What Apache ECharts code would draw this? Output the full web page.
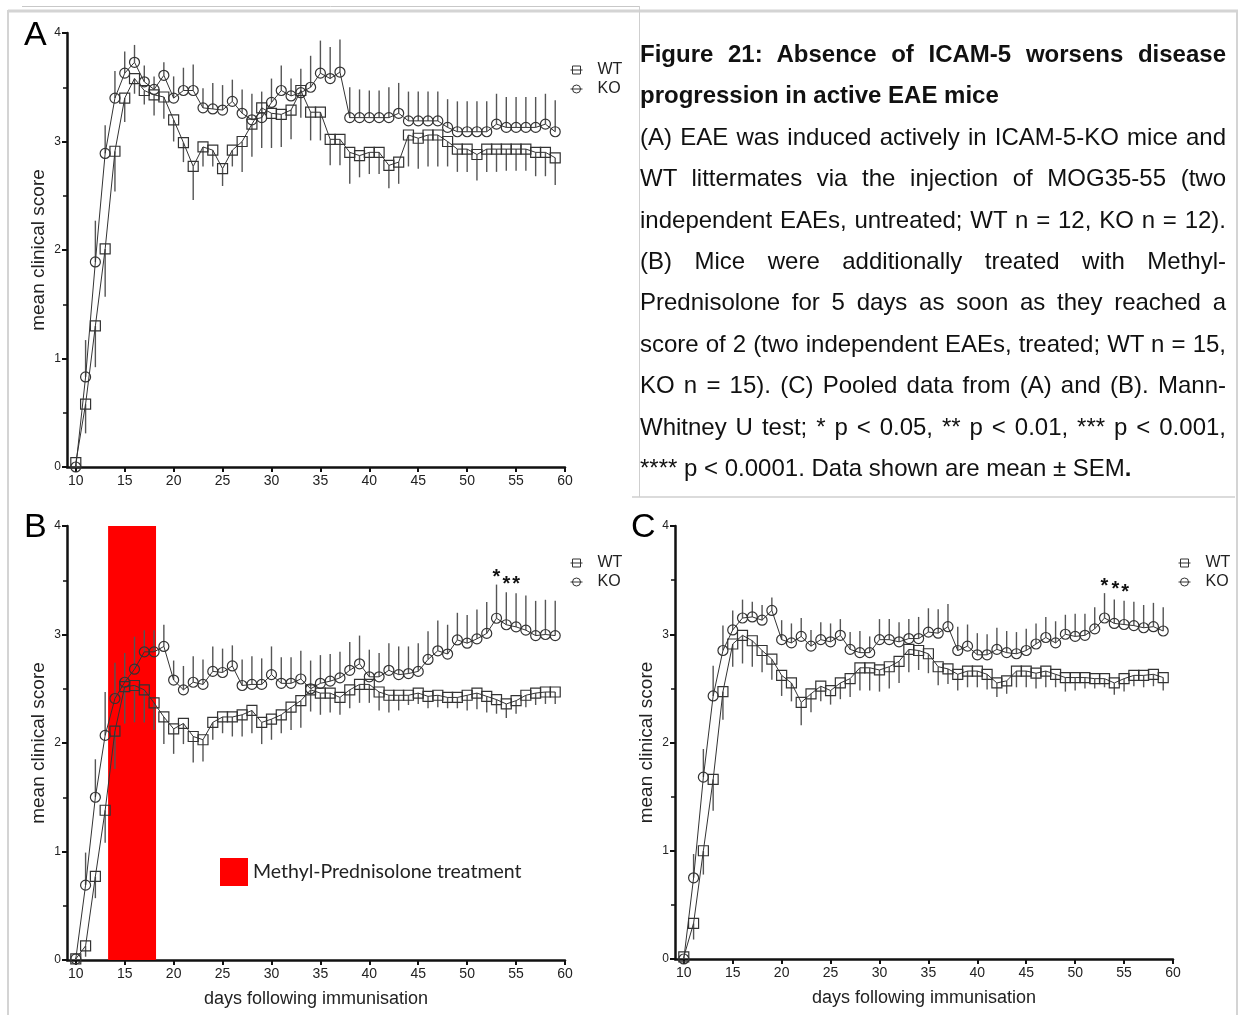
<!DOCTYPE html>
<html>
<head>
<meta charset="utf-8">
<script src="https://cdn.jsdelivr.net/npm/echarts@6/dist/echarts.min.js"></script>
<style>
  html, body { margin: 0; padding: 0; background: #fff; }
  #wrap { position: relative; width: 1240px; height: 1015px; }
  #chart { position: absolute; left: 0; top: 0; width: 1240px; height: 1015px; }
  .cap { position: absolute; left: 640px; top: 33px; width: 586px;
         font-family: 'Liberation Sans', Arial, sans-serif; font-size: 24px;
         line-height: 41.4px; color: #111; }
  .cap div { white-space: nowrap; }
  .cap .j { text-align: justify; text-align-last: justify; }
  .cap .b { font-weight: bold; }
</style>
</head>
<body>
<div id="wrap">
  <div id="chart"></div>
  <div class="cap">
    <div class="j b">Figure 21: Absence of ICAM-5 worsens disease</div>
    <div class="b">progression in active EAE mice</div>
    <div class="j">(A) EAE was induced actively in ICAM-5-KO mice and</div>
    <div class="j">WT littermates via the injection of MOG35-55 (two</div>
    <div class="j">independent EAEs, untreated; WT n = 12, KO n = 12).</div>
    <div class="j">(B) Mice were additionally treated with Methyl-</div>
    <div class="j">Prednisolone for 5 days as soon as they reached a</div>
    <div class="j">score of 2 (two independent EAEs, treated; WT n = 15,</div>
    <div class="j">KO n = 15). (C) Pooled data from (A) and (B). Mann-</div>
    <div class="j">Whitney U test; * p &lt; 0.05, ** p &lt; 0.01, *** p &lt; 0.001,</div>
    <div>**** p &lt; 0.0001. Data shown are mean ± SEM<b>.</b></div>
  </div>
</div>
<script>
// days after immunisation
const days = [10, 11, 12, 13, 14, 15, 16, 17, 18, 19, 20, 21, 22, 23, 24, 25, 26, 27, 28, 29,
              30, 31, 32, 33, 34, 35, 36, 37, 38, 39, 40, 41, 42, 43, 44, 45, 46, 47, 48, 49,
              50, 51, 52, 53, 54, 55, 56, 57, 58, 59]
const xTicks = [10, 15, 20, 25, 30, 35, 40, 45, 50, 55, 60]

// (A) untreated
const aWT = [0.04, 0.58, 1.30, 2.01, 2.91, 3.40, 3.58, 3.47, 3.43, 3.41, 3.20, 2.99, 2.77, 2.95, 2.92, 2.75, 2.92, 3.00, 3.16, 3.31,
             3.26, 3.25, 3.29, 3.47, 3.27, 3.27, 3.02, 3.02, 2.90, 2.87, 2.90, 2.90, 2.78, 2.81, 3.06, 3.03, 3.06, 3.06, 3.00, 2.93,
             2.93, 2.88, 2.93, 2.93, 2.93, 2.93, 2.93, 2.90, 2.90, 2.85]
const aWTsem = [0.03, 0.27, 0.38, 0.44, 0.37, 0.22, 0.14, 0.13, 0.19, 0.20, 0.20, 0.18, 0.31, 0.18, 0.15, 0.16, 0.15, 0.28, 0.30, 0.37,
                0.32, 0.30, 0.27, 0.25, 0.26, 0.26, 0.24, 0.24, 0.29, 0.20, 0.20, 0.20, 0.21, 0.20, 0.29, 0.28, 0.29, 0.29, 0.23, 0.21,
                0.21, 0.24, 0.21, 0.21, 0.20, 0.20, 0.20, 0.22, 0.22, 0.25]
const aKO = [0.00, 0.83, 1.89, 2.89, 3.40, 3.63, 3.73, 3.55, 3.48, 3.61, 3.40, 3.47, 3.47, 3.31, 3.30, 3.29, 3.37, 3.26, 3.20, 3.22,
             3.36, 3.47, 3.42, 3.45, 3.50, 3.63, 3.58, 3.64, 3.22, 3.22, 3.22, 3.22, 3.22, 3.26, 3.19, 3.19, 3.19, 3.19, 3.13, 3.09,
             3.09, 3.09, 3.09, 3.16, 3.13, 3.13, 3.13, 3.13, 3.16, 3.09]
const aKOsem = [0.02, 0.34, 0.38, 0.26, 0.25, 0.20, 0.16, 0.15, 0.12, 0.12, 0.20, 0.21, 0.24, 0.18, 0.24, 0.23, 0.20, 0.22, 0.24, 0.24,
                0.22, 0.23, 0.16, 0.22, 0.29, 0.30, 0.29, 0.30, 0.28, 0.26, 0.25, 0.25, 0.28, 0.28, 0.27, 0.27, 0.27, 0.27, 0.26, 0.28,
                0.28, 0.28, 0.28, 0.28, 0.28, 0.28, 0.28, 0.28, 0.28, 0.29]

// (B) methyl-prednisolone treated
const bWT = [0.01, 0.13, 0.77, 1.38, 2.11, 2.52, 2.53, 2.49, 2.37, 2.24, 2.13, 2.18, 2.06, 2.03, 2.19, 2.24, 2.24, 2.26, 2.30, 2.19,
             2.22, 2.26, 2.33, 2.39, 2.49, 2.46, 2.46, 2.42, 2.49, 2.54, 2.54, 2.47, 2.44, 2.44, 2.44, 2.46, 2.43, 2.44, 2.42, 2.42,
             2.44, 2.46, 2.43, 2.40, 2.36, 2.39, 2.44, 2.46, 2.47, 2.47]
const bWTsem = [0.01, 0.10, 0.20, 0.30, 0.35, 0.34, 0.34, 0.30, 0.25, 0.25, 0.23, 0.19, 0.24, 0.20, 0.16, 0.15, 0.18, 0.20, 0.21, 0.20,
                0.19, 0.17, 0.21, 0.25, 0.20, 0.20, 0.18, 0.16, 0.17, 0.17, 0.17, 0.17, 0.16, 0.14, 0.09, 0.10, 0.11, 0.11, 0.10, 0.10,
                0.14, 0.15, 0.15, 0.13, 0.13, 0.12, 0.11, 0.11, 0.11, 0.11]
const bKO = [0.01, 0.69, 1.50, 2.07, 2.41, 2.56, 2.68, 2.84, 2.84, 2.89, 2.58, 2.49, 2.56, 2.54, 2.66, 2.65, 2.71, 2.53, 2.54, 2.54,
             2.63, 2.55, 2.55, 2.59, 2.50, 2.55, 2.57, 2.60, 2.67, 2.73, 2.61, 2.61, 2.67, 2.63, 2.64, 2.66, 2.77, 2.85, 2.82, 2.95,
             2.92, 2.96, 3.01, 3.15, 3.09, 3.07, 3.04, 2.99, 3.00, 2.99]
const bKOsem = [0.01, 0.30, 0.35, 0.40, 0.33, 0.27, 0.30, 0.20, 0.20, 0.20, 0.18, 0.22, 0.24, 0.23, 0.23, 0.22, 0.19, 0.24, 0.26, 0.24,
                0.26, 0.24, 0.24, 0.26, 0.26, 0.26, 0.25, 0.24, 0.26, 0.26, 0.25, 0.22, 0.25, 0.26, 0.25, 0.26, 0.26, 0.28, 0.27, 0.25,
                0.26, 0.27, 0.29, 0.31, 0.30, 0.31, 0.32, 0.32, 0.32, 0.32]
const treatDays = [[13.3, 18.2]]
const starsB = [[53, 3.53], [54, 3.46], [55, 3.46]]

// (C) pooled
const cWT = [0.02, 0.33, 1.00, 1.66, 2.47, 2.91, 2.99, 2.94, 2.85, 2.77, 2.62, 2.55, 2.37, 2.45, 2.52, 2.48, 2.55, 2.59, 2.69, 2.69,
             2.67, 2.70, 2.75, 2.86, 2.85, 2.82, 2.70, 2.68, 2.63, 2.66, 2.66, 2.63, 2.55, 2.57, 2.66, 2.66, 2.64, 2.66, 2.63, 2.60,
             2.60, 2.60, 2.59, 2.59, 2.55, 2.59, 2.62, 2.62, 2.63, 2.60]
const cWTsem = [0.01, 0.15, 0.22, 0.29, 0.26, 0.21, 0.26, 0.24, 0.20, 0.19, 0.19, 0.17, 0.21, 0.17, 0.14, 0.13, 0.15, 0.17, 0.21, 0.21,
                0.20, 0.20, 0.20, 0.21, 0.18, 0.18, 0.17, 0.14, 0.15, 0.15, 0.15, 0.14, 0.13, 0.12, 0.15, 0.15, 0.14, 0.15, 0.12, 0.13,
                0.12, 0.10, 0.09, 0.08, 0.11, 0.12, 0.10, 0.11, 0.11, 0.12]
const cKO = [0.00, 0.75, 1.68, 2.43, 2.85, 3.04, 3.15, 3.16, 3.13, 3.22, 2.95, 2.92, 2.98, 2.89, 2.95, 2.93, 2.99, 2.86, 2.83, 2.83,
             2.95, 2.95, 2.93, 2.96, 2.96, 3.02, 3.01, 3.07, 2.85, 2.89, 2.81, 2.81, 2.86, 2.83, 2.82, 2.85, 2.91, 2.97, 2.92, 3.00,
             2.98, 2.99, 3.05, 3.15, 3.10, 3.09, 3.08, 3.06, 3.07, 3.03]
const cKOsem = [0.01, 0.22, 0.26, 0.28, 0.23, 0.18, 0.17, 0.14, 0.14, 0.12, 0.18, 0.18, 0.17, 0.15, 0.16, 0.17, 0.15, 0.16, 0.20, 0.15,
                0.19, 0.19, 0.18, 0.18, 0.20, 0.22, 0.22, 0.21, 0.22, 0.20, 0.20, 0.19, 0.20, 0.20, 0.20, 0.20, 0.19, 0.19, 0.20, 0.18,
                0.21, 0.20, 0.20, 0.23, 0.22, 0.22, 0.22, 0.21, 0.22, 0.22]
const starsC = [[53, 3.44], [54.1, 3.41], [55.1, 3.39]]


const FONT = 'Liberation Sans'
const INK = '#333'
const chart = echarts.init(document.getElementById('chart'))

const points = (vals) => days.map((d, i) => [d, vals[i]])
const withSem = (vals, sem) => days.map((d, i) => [d, vals[i], sem[i]])

// one-sided SEM bars: KO up, WT down
const semBar = (dir) => (params, api) => {
    const a = api.coord([api.value(0), api.value(1)])
    const b = api.coord([api.value(0), api.value(1) + dir * api.value(2)])
    return {
        type: 'line',
        shape: { x1: a[0], y1: a[1], x2: b[0], y2: b[1] },
        style: { stroke: '#555', lineWidth: 1.4 }
    }
}

const star = (params, api) => {
    const p = api.coord([api.value(0), api.value(1)])
    return {
        type: 'text', x: p[0], y: p[1],
        style: { text: '*', font: 'bold 20px "Liberation Sans"', fill: '#111', align: 'center', verticalAlign: 'middle' }
    }
}

const line = (name, idx, vals, symbol) => ({
    name, type: 'line', xAxisIndex: idx, yAxisIndex: idx,
    data: points(vals), symbol, symbolSize: 10, showSymbol: true,
    lineStyle: { color: INK, width: 1 },
    itemStyle: { color: 'rgba(255,255,255,0)', borderColor: INK, borderWidth: 1.2 },
    z: 4
})

const sem = (idx, vals, err, dir) => ({
    type: 'custom', xAxisIndex: idx, yAxisIndex: idx,
    data: withSem(vals, err), renderItem: semBar(dir), z: 3, silent: true
})

const xAxis = (idx, named) => ({
    type: 'value', gridIndex: idx, min: 9.1, max: 60,
    name: named ? 'days following immunisation' : '',
    nameLocation: 'middle', nameGap: 30,
    nameTextStyle: { fontFamily: FONT, fontSize: 18, color: '#222' },
    axisLine: { show: true, lineStyle: { color: '#111', width: 2.5 } },
    axisTick: { show: true, customValues: xTicks, length: 5, lineStyle: { color: '#111', width: 2 } },
    axisLabel: { customValues: xTicks, fontFamily: FONT, fontSize: 14, color: '#222', margin: 7 },
    splitLine: { show: false }
})

const yAxis = (idx) => ({
    type: 'value', gridIndex: idx, min: 0, max: 4, interval: 1,
    name: 'mean clinical score', nameLocation: 'middle', nameGap: 19, nameRotate: 90,
    nameTextStyle: { fontFamily: FONT, fontSize: 19, color: '#222' },
    axisLine: { show: true, lineStyle: { color: '#111', width: 2.5 } },
    axisTick: { show: true, length: 5, lineStyle: { color: '#111', width: 2 } },
    minorTick: { show: true, splitNumber: 2, length: 4, lineStyle: { color: '#111', width: 1.5 } },
    axisLabel: { fontFamily: FONT, fontSize: 12, color: '#222', margin: 6 },
    splitLine: { show: false }
})

const wtIcon = 'path://M2,2H10V10H2ZM0,6H12'
const koIcon = 'path://M2,6A4,4,0,1,1,10,6A4,4,0,1,1,2,6ZM0,6H12'

const legend = (left, top) => ({
    left, top, orient: 'vertical', itemWidth: 12, itemHeight: 9, itemGap: 3,
    data: [{ name: 'WT', icon: wtIcon }, { name: 'KO', icon: koIcon }],
    itemStyle: { color: 'rgba(0,0,0,0)', borderColor: INK, borderWidth: 1 },
    textStyle: { fontFamily: FONT, fontSize: 16, color: '#222', padding: [0, 0, 0, 10] }
})

const letter = (text, left, top) => ({
    type: 'text', left, top,
    style: { text, font: '34px "Liberation Sans"', fill: '#000' }
})

const rule = (x1, y1, x2, y2, w, c) => ({
    type: 'line', shape: { x1, y1, x2, y2 }, style: { stroke: c, lineWidth: w }
})

const option = {
    backgroundColor: '#fff',
    animation: false,
    grid: [
        { left: 67, right: 675, top: 33, height: 434 },
        { left: 67, right: 675, top: 526, height: 434 },
        { left: 675, right: 67, top: 526, height: 433 }
    ],
    xAxis: [xAxis(0, false), xAxis(1, true), xAxis(2, true)],
    yAxis: [yAxis(0), yAxis(1), yAxis(2)],
    legend: [
        legend(565, 57),
        legend(565, 550),
        legend(1173, 550),
        {
            left: 215, top: 853, itemWidth: 28, itemHeight: 28, icon: 'rect',
            data: ['Methyl-Prednisolone treatment'],
            textStyle: { fontFamily: 'Lato', fontSize: 19.5, color: '#222', padding: [3, 0, 0, 0] }
        }
    ],
    graphic: [
        rule(8, 10, 8, 1015, 2, '#d4d4d4'),
        rule(8, 11, 1238, 11, 3, '#d4d4d4'),
        rule(1237, 10, 1237, 1015, 2, '#d4d4d4'),
        rule(22, 6.5, 639, 6.5, 1, '#c8c8c8'),
        rule(639.5, 6, 639.5, 497, 1, '#cfcfcf'),
        rule(632, 497, 1235, 497, 1.5, '#cfcfcf'),
        letter('A', 24, 19),
        letter('B', 24, 511),
        letter('C', 631, 511)
    ],
    series: [
        {
            name: 'Methyl-Prednisolone treatment', type: 'custom', xAxisIndex: 1, yAxisIndex: 1,
            data: treatDays, itemStyle: { color: '#ff0000' }, z: 1, silent: true,
            renderItem: (params, api) => {
                const a = api.coord([api.value(0), 4])
                const b = api.coord([api.value(1), 0])
                return { type: 'rect', shape: { x: a[0], y: a[1], width: b[0] - a[0], height: b[1] - a[1] },
                         style: { fill: '#ff0000' } }
            }
        },
        sem(0, aWT, aWTsem, -1), sem(0, aKO, aKOsem, 1),
        line('WT', 0, aWT, 'rect'), line('KO', 0, aKO, 'circle'),
        sem(1, bWT, bWTsem, -1), sem(1, bKO, bKOsem, 1),
        line('WT', 1, bWT, 'rect'), line('KO', 1, bKO, 'circle'),
        sem(2, cWT, cWTsem, -1), sem(2, cKO, cKOsem, 1),
        line('WT', 2, cWT, 'rect'), line('KO', 2, cKO, 'circle'),
        { type: 'custom', xAxisIndex: 1, yAxisIndex: 1, data: starsB, renderItem: star, z: 5, silent: true },
        { type: 'custom', xAxisIndex: 2, yAxisIndex: 2, data: starsC, renderItem: star, z: 5, silent: true }
    ]
}

chart.setOption(option)
</script>
</body>
</html>
